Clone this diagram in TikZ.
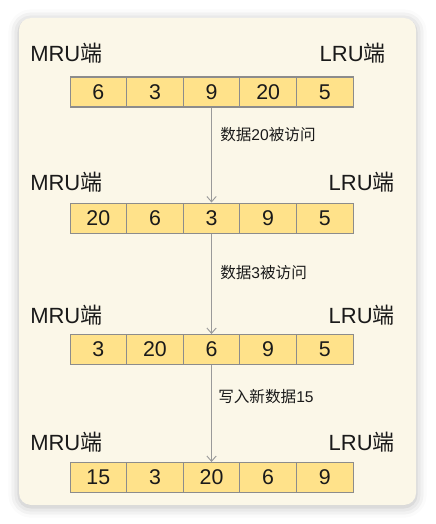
\documentclass[tikz,border=0pt]{standalone}
\usepackage{fontspec}
\setmainfont{Liberation Sans}
\newfontfamily\cjk{Noto Sans CJK SC}
\usetikzlibrary{arrows.meta,shadows.blur}
\definecolor{cardbg}{HTML}{FBF7E8}
\definecolor{cellfill}{HTML}{FFE28A}
\definecolor{cellline}{HTML}{8C8C8C}
\definecolor{arrowgray}{HTML}{9A9A9A}
\definecolor{txt}{HTML}{1A1A1A}
\tikzset{
  cell/.style={draw=cellline, line width=0.8pt, fill=cellfill, rectangle,
    minimum width=42.45pt, minimum height=22.5pt, inner sep=0pt, anchor=north west,
    font=\fontsize{16}{16}\selectfont, text=txt},
  endlabel/.style={font=\fontsize{16.5}{16.5}\selectfont, text=txt, inner sep=0pt},
  steplabel/.style={font=\fontsize{11.7}{11.7}\selectfont, text=txt, inner sep=0pt, anchor=west},
  flow/.style={draw=arrowgray, line width=0.7pt, -{Straight Barb[length=4pt,width=7pt,line width=0.7pt]}},
}
\begin{document}
\begin{tikzpicture}[x=0.75pt,y=-0.75pt]
\useasboundingbox (0,0) rectangle (435,524);
\fill[cardbg, rounded corners=9pt, blur shadow={shadow xshift=0pt, shadow yshift=-1.5pt, shadow blur radius=8pt, shadow opacity=28}] (19,18) rectangle (416,505);
% rows
\foreach \r/\top/\lab/\lrux/\vals in {1/76.5/53.3/386/{6,3,9,20,5}, 2/202.5/181.7/395/{20,6,3,9,5}, 3/334/315/395/{3,20,6,9,5}, 4/462/441.7/395/{15,3,20,6,9}}{
  \node[endlabel, anchor=west] (mru\r) at (30,\lab) {MRU{\cjk 端}};
  \node[endlabel, anchor=east] (lru\r) at (\lrux,\lab) {LRU{\cjk 端}};
  \foreach \v [count=\c] in \vals {
    \node[cell] (r\r c\c) at ({69.5+56.6*(\c-1)},\top) {\v};
  }
}
\draw[flow] (r1c3.south) -- (r2c3.north);
\draw[flow] (r2c3.south) -- (r3c3.north);
\draw[flow] (r3c3.south) -- (r4c3.north);
\node[steplabel] (s1) at (220,135) {{\cjk 数据}20{\cjk 被访问}};
\node[steplabel] (s2) at (220,273) {{\cjk 数据}3{\cjk 被访问}};
\node[steplabel] (s3) at (218,397) {{\cjk 写入新数据}15};
\end{tikzpicture}
\end{document}
